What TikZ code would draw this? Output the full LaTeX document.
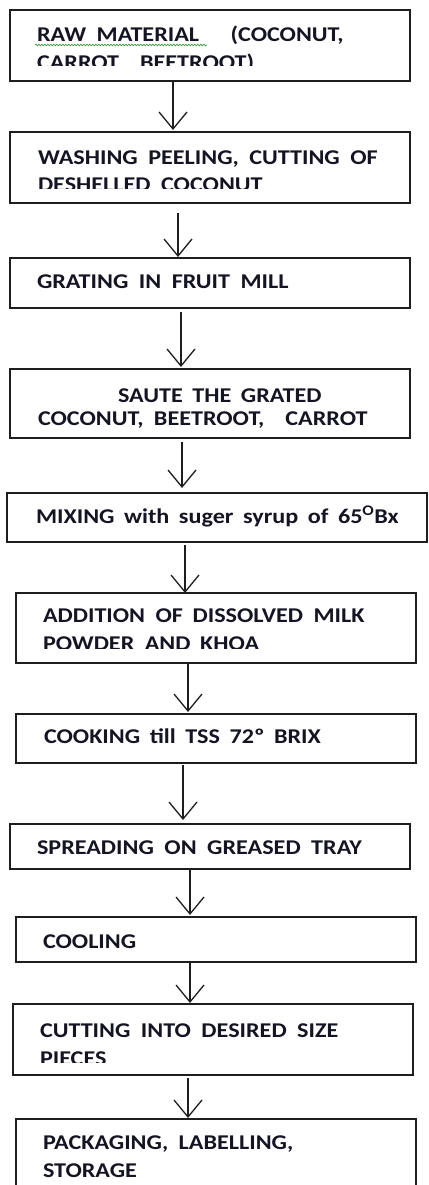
\documentclass[tikz,border=0pt]{standalone}
\usepackage{fontspec}
\setmainfont{Carlito}[FakeStretch=1.15, WordSpace=1.75]
\usetikzlibrary{arrows.meta,decorations.pathmorphing}
\definecolor{ink}{RGB}{20,20,35}
\definecolor{frame}{RGB}{30,30,30}
\definecolor{squig}{RGB}{60,150,60}
\newcommand{\ws}{\hspace{0.5em}}
\begin{document}
\begin{tikzpicture}[x=1pt,y=-1pt,
  box/.style={draw=frame, line width=1.4pt, anchor=north west, inner sep=0pt, outer sep=0pt},
  txt/.style={anchor=base west, inner sep=0pt, outer sep=0pt, text=ink, font=\fontsize{21}{24}\selectfont\bfseries},
  arr/.style={draw=frame, line width=1.3pt, -{Straight Barb[length=17pt,width=28pt,line width=1.3pt]}}]
\useasboundingbox (0,0) rectangle (428,1185);
\clip (0,0) rectangle (428,1185);
% boxes
\node[box, minimum width=400pt, minimum height=71pt] (b1) at (10,10) {};
\node[box, minimum width=400pt, minimum height=71pt] (b2) at (10,132) {};
\node[box, minimum width=400pt, minimum height=50pt] (b3) at (10,258) {};
\node[box, minimum width=400pt, minimum height=69pt] (b4) at (10,369) {};
\node[box, minimum width=420pt, minimum height=49pt] (b5) at (7,493) {};
\node[box, minimum width=400pt, minimum height=70pt] (b6) at (16,593) {};
\node[box, minimum width=400pt, minimum height=49pt] (b7) at (16,714) {};
\node[box, minimum width=400pt, minimum height=45pt] (b8) at (10,824) {};
\node[box, minimum width=400pt, minimum height=45pt] (b9) at (16,917) {};
\node[box, minimum width=400pt, minimum height=71pt] (b10) at (13,1004) {};
\node[box, minimum width=400pt, minimum height=90pt] (b11) at (16,1119) {};
% texts
\node[txt] (t1a) at (37,42) {RAW\ws MATERIAL\ws\ws\ws (COCONUT,};
\draw[squig, line width=0.7pt, decorate, decoration={snake, amplitude=0.8pt, segment length=3pt}] (35,45) -- (207,45);
\begin{scope}
\clip (0,0) rectangle (428,66);
\node[txt] (t1b) at (37,70) {CARROT\ws\ws BEETROOT)};
\end{scope}
\node[txt] (t2a) at (38,165) {WASHING\ws PEELING,\ws CUTTING\ws OF};
\begin{scope}
\clip (0,140) rectangle (428,189);
\node[txt] (t2b) at (38,192) {DESHELLED\ws COCONUT};
\end{scope}
\node[txt] (t3) at (37,288) {GRATING\ws IN\ws FRUIT\ws MILL};
\node[txt] (t4a) at (118,402) {SAUTE THE GRATED};
\node[txt] (t4b) at (38,425) {COCONUT,\ws BEETROOT,\ws\ws CARROT};
\node[txt] (t5) at (36,523) {MIXING with suger syrup of 65\textsuperscript{O}Bx};
\node[txt] (t6a) at (43,622) {ADDITION\ws OF DISSOLVED\ws MILK};
\begin{scope}
\clip (0,600) rectangle (428,648);
\node[txt] (t6b) at (43,650) {POWDER\ws AND KHOA};
\end{scope}
\node[txt] (t7) at (44,743) {COOKING till TSS 72º BRIX};
\node[txt] (t8) at (37,854) {SPREADING\ws ON\ws GREASED\ws TRAY};
\node[txt] (t9) at (43,948) {COOLING};
\node[txt] (t10a) at (40,1037) {CUTTING\ws INTO\ws DESIRED\ws SIZE};
\begin{scope}
\clip (0,1010) rectangle (428,1062);
\node[txt] (t10b) at (40,1065) {PIECES};
\end{scope}
\node[txt] (t11a) at (43,1149) {PACKAGING,\ws LABELLING,};
\node[txt] (t11b) at (43,1177) {STORAGE};
% arrow x positions
\coordinate (x1) at (173,0);
\coordinate (x2) at (178,0);
\coordinate (x3) at (181,0);
\coordinate (x4) at (182,0);
\coordinate (x5) at (185,0);
\coordinate (x6) at (188,0);
\coordinate (x7) at (183,0);
\coordinate (x8) at (190,0);
\coordinate (x9) at (190,0);
\coordinate (x10) at (188,0);
% arrows
\draw[arr, shorten >=2pt] (b1.south -| x1) -- (b2.north -| x1);
\draw[arr, shorten <=10pt, shorten >=1pt] (b2.south -| x2) -- (b3.north -| x2);
\draw[arr, shorten <=4pt, shorten >=2pt] (b3.south -| x3) -- (b4.north -| x3);
\draw[arr, shorten <=4pt, shorten >=5pt] (b4.south -| x4) -- (b5.north -| x4);
\draw[arr, shorten <=3pt] (b5.south -| x5) -- (b6.north -| x5);
\draw[arr, shorten >=2pt] (b6.south -| x6) -- (b7.north -| x6);
\draw[arr, shorten <=2pt, shorten >=4pt] (b7.south -| x7) -- (b8.north -| x7);
\draw[arr, shorten <=1pt, shorten >=2pt] (b8.south -| x8) -- (b9.north -| x8);
\draw[arr, shorten >=1pt] (b9.south -| x9) -- (b10.north -| x9);
\draw[arr, shorten <=3pt, shorten >=1pt] (b10.south -| x10) -- (b11.north -| x10);
\end{tikzpicture}
\end{document}
